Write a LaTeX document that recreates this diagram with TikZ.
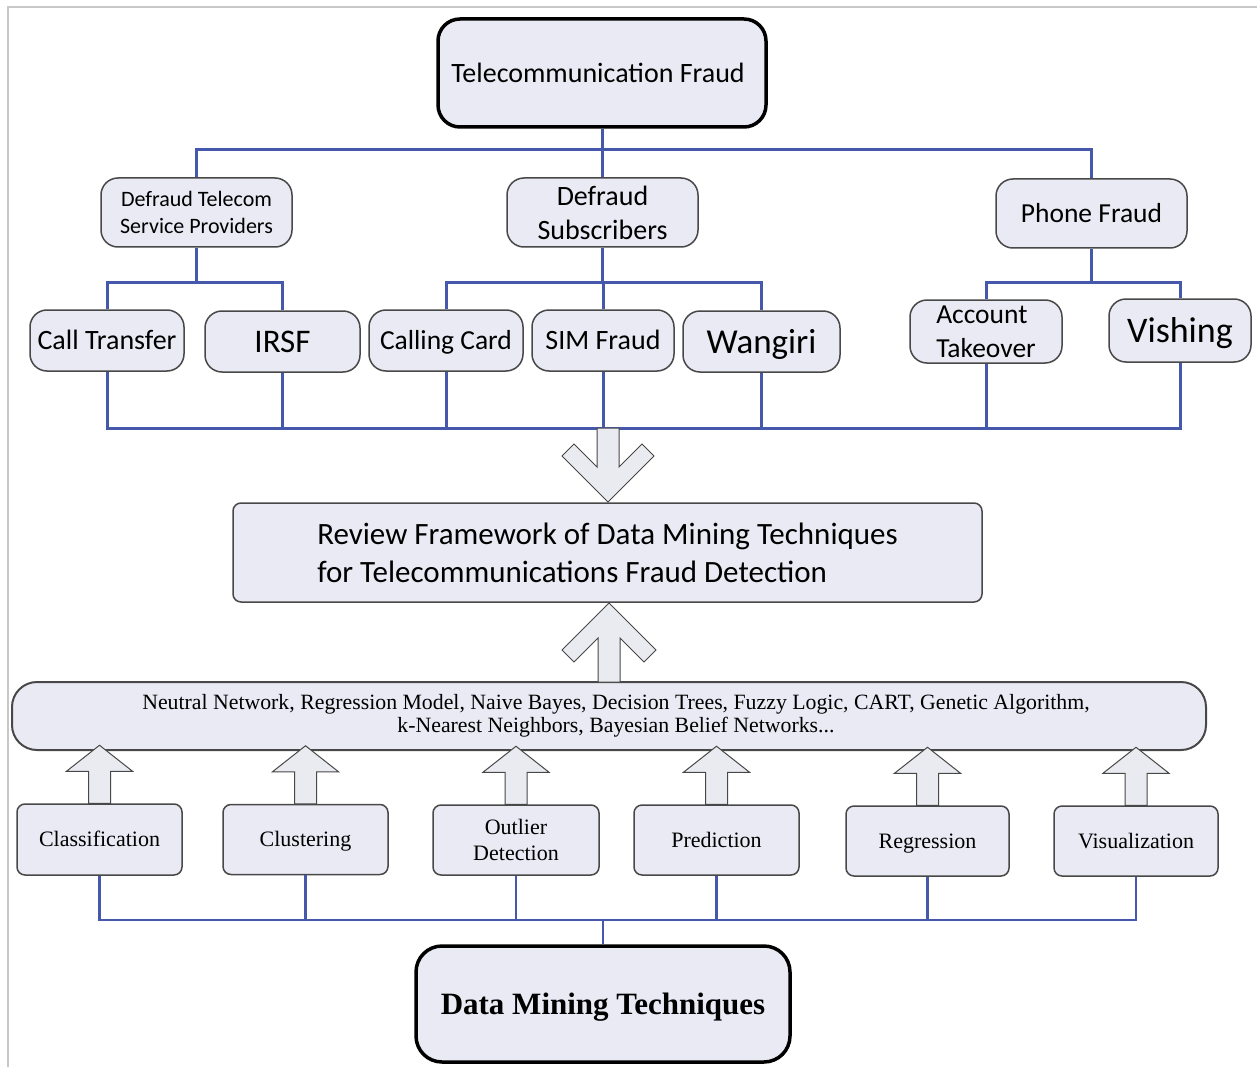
\documentclass[tikz,border=0pt]{standalone}
\usepackage{fontspec}
\setmainfont{Liberation Serif}
\newfontfamily\carl{Carlito}
\definecolor{boxfill}{RGB}{233,234,243}
\definecolor{blueln}{RGB}{70,88,172}
\definecolor{edgegray}{RGB}{72,72,72}
\definecolor{arrfill}{RGB}{234,235,241}
\definecolor{framegray}{RGB}{200,200,200}
\begin{document}
\begin{tikzpicture}[x=1pt,y=-1pt,
  rbox/.style={draw=edgegray, line width=1.5pt, fill=boxfill, rounded corners=17pt, inner sep=0pt},
  oneline/.style={text height=#1, text depth=0pt},
  heavybox/.style={draw=black, line width=3.5pt, fill=boxfill, rounded corners=22pt, inner sep=0pt},
  sqbox/.style={draw=edgegray, line width=1.5pt, fill=boxfill, rounded corners=8pt, inner sep=0pt},
  bl/.style={draw=blueln, line width=3pt},
  blb/.style={draw=blueln, line width=2.5pt},
  blockarrow/.style={draw=edgegray, line width=1pt, fill=arrfill, line join=miter},
  uparr/.pic={\filldraw[blockarrow] (-11,0) -- (-11,-32) -- (-33,-32) -- (0,-58) -- (33,-32) -- (11,-32) -- (11,0) -- cycle;}
]
\useasboundingbox (0,0) rectangle (1257,1067);
\fill[white] (0,0) rectangle (1257,1067);
\draw[framegray, line width=1.5pt] (8,1067) -- (8,7) -- (1257,7);

% top level
\node[heavybox, oneline=18.5pt, minimum width=328pt, minimum height=108pt, font=\carl\fontsize{28}{33}\selectfont] (tf) at (602,73) {\hspace*{-8pt}Telecommunication Fraud};

% level 1
\node[rbox, minimum width=191pt, minimum height=69pt, align=center, font=\carl\fontsize{22}{27}\selectfont] (dtsp) at (196.5,212.5) {Defraud Telecom\\Service Providers};
\node[rbox, minimum width=191pt, minimum height=69pt, align=center, font=\carl\fontsize{28}{34}\selectfont] (ds) at (602.5,212.5) {Defraud\\Subscribers};
\node[rbox, oneline=18.2pt, minimum width=191pt, minimum height=69pt, font=\carl\fontsize{27.5}{33}\selectfont] (pf) at (1091.5,213.5) {Phone Fraud};

% level 2
\node[rbox, oneline=18.5pt, minimum width=154pt, minimum height=61pt, font=\carl\fontsize{28}{33}\selectfont] (ct) at (107,340.5) {Call Transfer};
\node[rbox, oneline=21.8pt, minimum width=155pt, minimum height=61pt, font=\carl\fontsize{33}{38}\selectfont] (irsf) at (282.5,341.5) {IRSF};
\node[rbox, oneline=18.2pt, minimum width=154pt, minimum height=61pt, font=\carl\fontsize{27.5}{33}\selectfont] (cc) at (446,340.5) {Calling Card};
\node[rbox, oneline=18.5pt, minimum width=142pt, minimum height=61pt, font=\carl\fontsize{28}{33}\selectfont] (sim) at (603,340.5) {SIM Fraud};
\node[rbox, oneline=23.1pt, minimum width=157pt, minimum height=61pt, font=\carl\fontsize{35}{40}\selectfont] (wan) at (761.5,341.5) {Wangiri};
\node[rbox, minimum width=152pt, minimum height=63pt, align=left, font=\carl\fontsize{27.5}{34}\selectfont] (at) at (986,331.5) {Account\\Takeover};
\node[rbox, oneline=23.8pt, minimum width=142pt, minimum height=63pt, font=\carl\fontsize{36}{40}\selectfont] (vsh) at (1180,330.5) {Vishing};

% connectors top
\coordinate (y150) at (0,150);
\coordinate (y282) at (0,282);
\coordinate (y428) at (0,428);
\draw[bl] (tf.south) -- (tf.south |- y150);
\draw[bl] (dtsp.north) |- (pf.north |- y150) -- (pf.north);
\draw[bl] (ds.north) -- (ds.north |- y150);

\draw[bl] (dtsp.south) -- (dtsp.south |- y282);
\draw[bl] (ct.north) |- (irsf.north |- y282) -- (irsf.north);
\draw[bl] (ds.south) -- (ds.south |- y282);
\draw[bl] (cc.north) |- (wan.north |- y282) -- (wan.north);
\draw[bl] (sim.north) -- (sim.north |- y282);
\draw[bl] (pf.south) -- (pf.south |- y282);
\draw[bl] (at.north) |- (vsh.north |- y282) -- (vsh.north);

\draw[bl] (ct.south) |- (vsh.south |- y428) -- (vsh.south);
\draw[bl] (irsf.south) -- (irsf.south |- y428);
\draw[bl] (cc.south) -- (cc.south |- y428);
\draw[bl] (sim.south) -- (sim.south |- y428);
\draw[bl] (wan.south) -- (wan.south |- y428);
\draw[bl] (at.south) -- (at.south |- y428);

% review framework
\node[sqbox, minimum width=749pt, minimum height=99pt, align=left, font=\carl\fontsize{31}{38}\selectfont] (rf) at (607.5,552.5) {Review Framework of Data Mining Techniques\\for Telecommunications Fraud Detection};

% big arrows
\filldraw[blockarrow] (597,428) -- (597,467) -- (574,444) -- (562,456) -- (608,502) -- (654,456) -- (642,444) -- (619,467) -- (619,428) -- cycle;

% methods box
\node[draw=edgegray, line width=2pt, fill=boxfill, rounded corners=25pt, inner sep=0pt, minimum width=1194pt, minimum height=68pt, align=center, font=\fontsize{21.8}{23.5}\selectfont] (mb) at (609,716) {\hspace*{14pt}Neutral Network, Regression Model, Naive Bayes, Decision Trees, Fuzzy Logic, CART, Genetic Algorithm,\\\hspace*{14pt}k-Nearest Neighbors, Bayesian Belief Networks...};

\filldraw[blockarrow] (598,682) -- (598,638) -- (574,662) -- (562,650) -- (609,603) -- (656,650) -- (644,662) -- (620,638) -- (620,682) -- cycle;

% techniques
\node[sqbox, oneline=14.5pt, minimum width=165pt, minimum height=71pt, font=\fontsize{22}{26}\selectfont] (cls) at (99.5,839.5) {Classification};
\node[sqbox, oneline=14.5pt, minimum width=165pt, minimum height=70pt, font=\fontsize{22}{26}\selectfont] (clu) at (305.5,839.5) {Clustering};
\node[sqbox, minimum width=166pt, minimum height=70pt, align=center, font=\fontsize{22}{26}\selectfont] (out) at (516,840) {Outlier\\Detection};
\node[sqbox, oneline=14.5pt, minimum width=165pt, minimum height=70pt, font=\fontsize{22}{26}\selectfont] (pre) at (716.5,840) {Prediction};
\node[sqbox, oneline=14.5pt, minimum width=163pt, minimum height=70pt, font=\fontsize{22}{26}\selectfont] (reg) at (927.5,841) {Regression};
\node[sqbox, oneline=14.5pt, minimum width=164pt, minimum height=70pt, font=\fontsize{22}{26}\selectfont] (vis) at (1136,841) {Visualization};

\foreach \n in {cls,clu,out,pre,reg,vis} { \pic at (\n.north) {uparr}; }

% data mining
\node[heavybox, oneline=20.5pt, rounded corners=26pt, minimum width=374pt, minimum height=116pt, font=\bfseries\fontsize{31}{34}\selectfont] (dm) at (603,1004) {Data Mining Techniques};

\coordinate (y920) at (0,920);
\draw[blb] (cls.south) |- (vis.south |- y920) -- (vis.south);
\draw[blb] (clu.south) -- (clu.south |- y920);
\draw[blb] (out.south) -- (out.south |- y920);
\draw[blb] (pre.south) -- (pre.south |- y920);
\draw[blb] (reg.south) -- (reg.south |- y920);
\draw[blb] (dm.north) -- (dm.north |- y920);
\end{tikzpicture}
\end{document}
